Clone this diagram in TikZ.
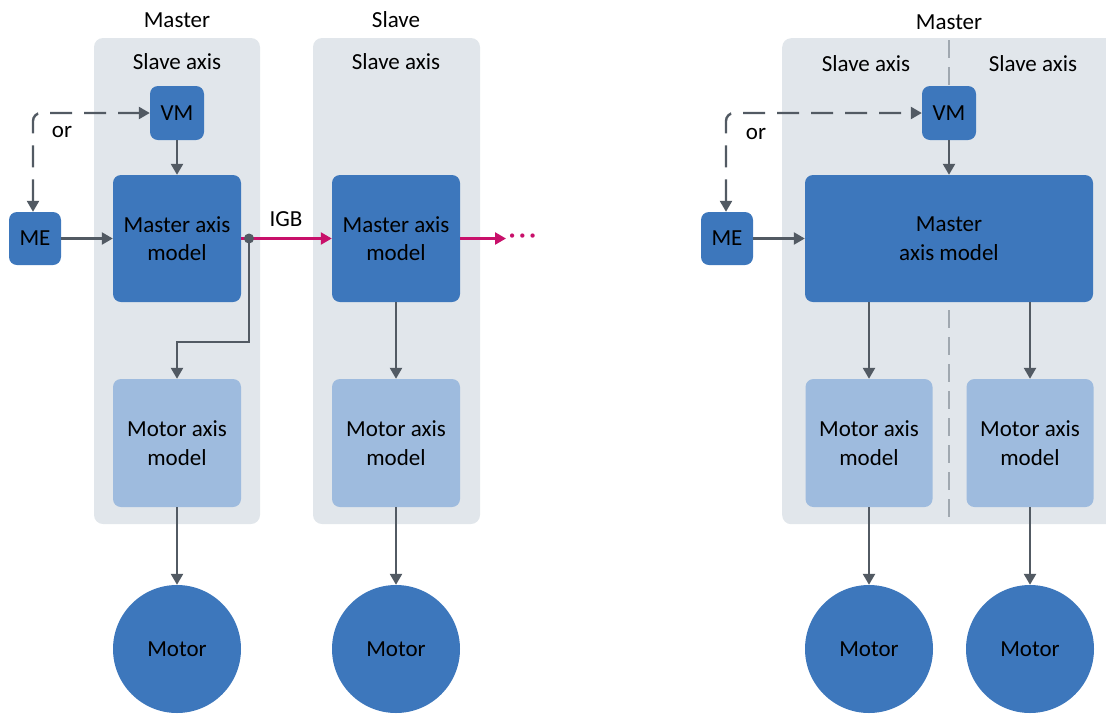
\documentclass[tikz,border=0pt]{standalone}
\usepackage{fontspec}
\setmainfont{Carlito}
\usetikzlibrary{arrows.meta}
\definecolor{panelgray}{RGB}{225,230,235}
\definecolor{darkblue}{RGB}{61,119,188}
\definecolor{lightblue}{RGB}{158,187,222}
\definecolor{linegray}{RGB}{82,90,99}
\definecolor{divgray}{RGB}{160,168,176}
\definecolor{busred}{RGB}{200,16,106}
\newcommand{\txt}{\fontsize{23}{28.5}\selectfont}
\tikzset{
  panel/.style={fill=panelgray, rounded corners=9pt, inner sep=0pt},
  dbox/.style={fill=darkblue, rounded corners=8pt, align=center, inner sep=0pt, font=\txt},
  lbox/.style={fill=lightblue, rounded corners=8pt, align=center, inner sep=0pt, font=\txt},
  motor/.style={circle, fill=darkblue, minimum size=128pt, inner sep=0pt, font=\txt},
  lbl/.style={font=\txt, inner sep=0pt},
  conn/.style={draw=linegray, line width=2.4pt, -{Triangle[width=12pt,length=11pt]}},
  dconn/.style={conn, dash pattern=on 22pt off 12pt},
  bus/.style={draw=busred, line width=2.4pt, -{Triangle[width=12pt,length=11pt]}},
}
\begin{document}
\begin{tikzpicture}[x=1pt, y=-1pt]
\clip (0,0) rectangle (1106,713);
\useasboundingbox (0,0) rectangle (1106,713);

% ---------- left: master and slave drives ----------
\node[panel, minimum width=166pt, minimum height=486pt] (pm) at (177,281) {};
\node[panel, minimum width=167pt, minimum height=486pt] (ps) at (396.5,281) {};
\node[lbl] (tm) at (177,20) {Master};
\node[lbl] (ts) at (396,20) {Slave};
\node[lbl] (sam) at (177,62) {Slave axis};
\node[lbl] (sas) at (396,62) {Slave axis};

\node[dbox, minimum width=54pt, minimum height=54pt] (vm) at (177,113) {VM};
\node[dbox, minimum width=52pt, minimum height=53pt] (me) at (35,238.5) {ME};
\node[dbox, minimum width=128pt, minimum height=127pt] (mam) at (177,238.5) {Master axis\\model};
\node[lbox, minimum width=128pt, minimum height=128pt] (mom) at (177,443) {Motor axis\\model};
\node[motor] (mot) at (177,649) {Motor};

\node[dbox, minimum width=128pt, minimum height=127pt] (sam2) at (396,238.5) {Master axis\\model};
\node[lbox, minimum width=128pt, minimum height=128pt] (som) at (396,443) {Motor axis\\model};
\node[motor] (smot) at (396,649) {Motor};

\draw[conn] (vm) -- (mam);
\draw[conn] (me) -- (mam);
\draw[dconn, {Triangle[width=12pt,length=11pt]}-{Triangle[width=12pt,length=11pt]}, rounded corners=8pt]
  (me.north -| 33,0) |- (vm.west);
\node[lbl] (or1) at (62,132) {or};

\coordinate (tap) at (249,238.5);
\draw[bus] (mam.east) -- (sam2.west);
\node[lbl] (igb) at (286,219) {IGB};
\draw[conn] (tap) |- (177,342) -- (mom);
\fill[linegray] (tap) circle (5pt);
\coordinate (busend) at (506,238.5);
\draw[bus] (sam2.east) -- (busend);
\node[lbl, text=busred, anchor=west] (dots) at (509,238.5)
  {\textbf{\char"B7\kern4pt\char"B7\kern4pt\char"B7}};

\draw[conn] (mom) -- (mot);
\draw[conn] (sam2) -- (som);
\draw[conn] (som) -- (smot);

% ---------- right: one drive with two axes ----------
\node[panel, minimum width=340pt, minimum height=486pt, anchor=north west] (pr) at (782,38) {};
\draw[divgray, line width=2pt, dash pattern=on 18pt off 9pt] (949,40) -- (949,524);
\node[lbl] (trm) at (949,22) {Master};
\node[lbl] (sa1) at (866,64) {Slave axis};
\node[lbl] (sa2) at (1033,64) {Slave axis};

\node[dbox, minimum width=54pt, minimum height=54pt] (rvm) at (949,113) {VM};
\node[dbox, minimum width=52pt, minimum height=53pt] (rme) at (727,238.5) {ME};
\node[dbox, minimum width=288pt, minimum height=127pt] (rmam) at (949,238.5) {Master\\axis model};
\node[lbox, minimum width=127pt, minimum height=128pt] (rmo1) at (869,443) {Motor axis\\model};
\node[lbox, minimum width=127pt, minimum height=128pt] (rmo2) at (1030,443) {Motor axis\\model};
\node[motor] (rm1) at (869,649) {Motor};
\node[motor] (rm2) at (1030,649) {Motor};

\draw[conn] (rvm) -- (rmam);
\draw[conn] (rme) -- (rmam);
\draw[dconn, {Triangle[width=12pt,length=11pt]}-{Triangle[width=12pt,length=11pt]}, rounded corners=8pt]
  (rme.north -| 726,0) |- (rvm.west);
\node[lbl] (or2) at (756,134) {or};

\draw[conn] (rmam.south -| rmo1) -- (rmo1);
\draw[conn] (rmam.south -| rmo2) -- (rmo2);
\draw[conn] (rmo1) -- (rm1);
\draw[conn] (rmo2) -- (rm2);
\end{tikzpicture}
\end{document}
